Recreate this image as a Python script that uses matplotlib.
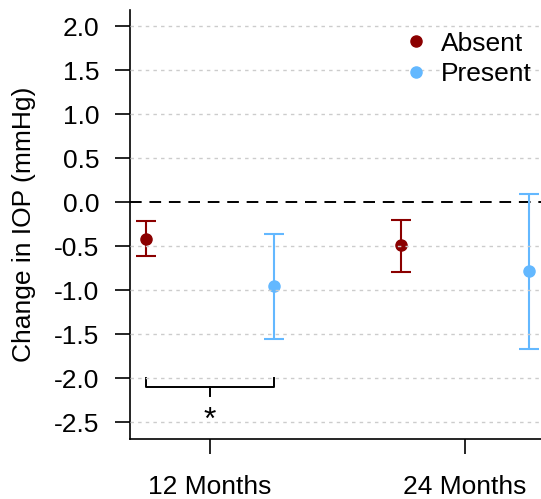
import matplotlib.pyplot as plt
import numpy as np

plt.rcParams['font.family'] = ['Liberation Sans', 'DejaVu Sans']

months = ['12 Months', '24 Months']
groups = ['Absent', 'Present']
colors = {'Absent': '#8B0000', 'Present': '#63B8FF'}

absent_mean = [-0.42, -0.49]
absent_lo = [-0.61, -0.79]
absent_hi = [-0.22, -0.205]

present_mean = [-0.955, -0.78]
present_lo = [-1.56, -1.67]
present_hi = [-0.36, 0.095]

yticks = [2.0, 1.5, 1.0, 0.5, 0.0, -0.5, -1.0, -1.5, -2.0, -2.5]

# significance bracket between the 12-month groups
bracket_y = -2.10
bracket_top = -2.0
bracket_mid = -2.21
star_y = -2.49


def plot_group(ax, x, mean, lo, hi, color):
    mean = np.array(mean)
    err = np.array([mean - np.array(lo), np.array(hi) - mean])
    ax.errorbar(x, mean, yerr=err, fmt='o', color=color, ecolor=color,
                markersize=8, elinewidth=1.5, capsize=7.5, capthick=1.5,
                zorder=2)


fig = plt.figure(figsize=(5.41, 4.99), dpi=100)
ax = fig.add_axes([130 / 541, 60 / 499, 411 / 541, 429 / 499])

x = np.arange(1, len(months) + 1)
offset = 0.25
plot_group(ax, x - offset, absent_mean, absent_lo, absent_hi, colors['Absent'])
plot_group(ax, x + offset, present_mean, present_lo, present_hi, colors['Present'])

for yv in yticks:
    if yv == 0:
        ax.axhline(0, color='black', lw=1.4, ls=(0, (6, 4)), zorder=1)
    else:
        ax.axhline(yv, color='#cccccc', lw=1.0, ls=(0, (2.5, 3)), zorder=3)

# bracket + asterisk
bx0, bx1 = x[0] - offset, x[0] + offset
ax.plot([bx0, bx0, bx1, bx1], [bracket_top, bracket_y, bracket_y, bracket_top],
        color='black', lw=1.4, zorder=2)
ax.plot([x[0], x[0]], [bracket_y, bracket_mid], color='black', lw=1.4, zorder=2)
ax.text(x[0], star_y, '*', ha='center', va='center', fontsize=23)

ax.set_xlim(0.686, 2.298)
ax.set_ylim(-2.693, 2.182)
ax.set_xticks(x)
ax.set_xticklabels(months)
ax.set_yticks(yticks)
ax.set_yticklabels([f'{v:.1f}' for v in yticks])

ax.spines['top'].set_visible(False)
ax.spines['right'].set_visible(False)
ax.spines['left'].set_linewidth(1.2)
ax.spines['bottom'].set_linewidth(1.2)
ax.tick_params(axis='both', labelsize=19, length=11, width=1.2, direction='out')
ax.tick_params(axis='y', pad=11)
ax.tick_params(axis='x', pad=15)

ax.set_ylabel('Change in IOP (mmHg)', fontsize=19, labelpad=13)

handles = [plt.Line2D([], [], marker='o', ls='none', color=colors[g], markersize=8)
           for g in groups]
ax.legend(handles, groups, loc='upper right', frameon=False, fontsize=19,
          handlelength=1.0, handletextpad=0.45, borderpad=0.1,
          borderaxespad=0.1, labelspacing=0.25,
          bbox_to_anchor=(0.99, 0.962))

fig.savefig('out.png', dpi=100)
